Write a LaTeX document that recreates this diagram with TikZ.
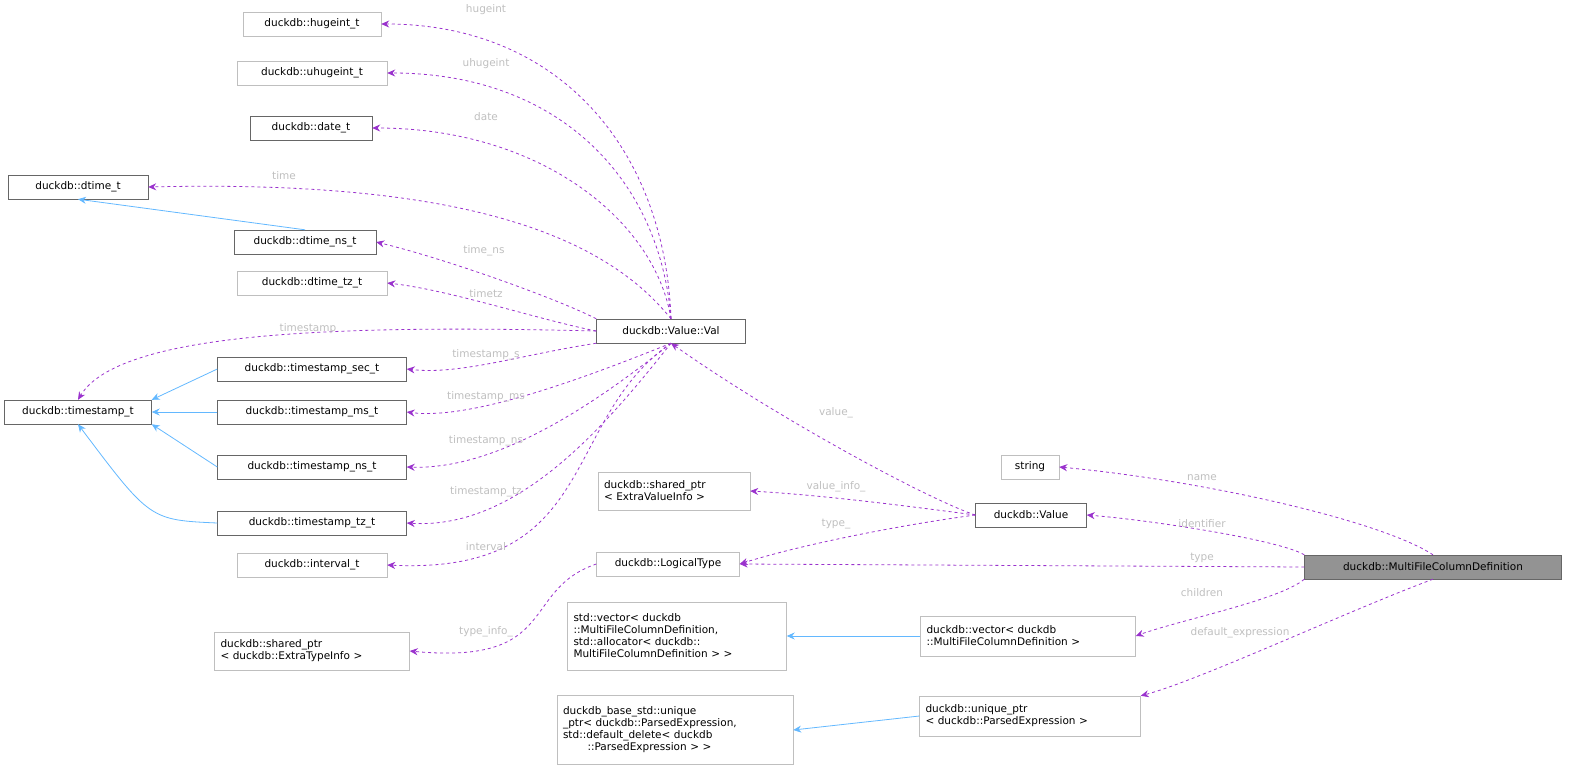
\documentclass[tikz,border=0pt]{standalone}
\usepackage{fontspec}
\setmainfont{DejaVu Sans}
\usetikzlibrary{arrows.meta}
\definecolor{pur}{HTML}{9A32CD}
\definecolor{blu}{HTML}{63B8FF}
\definecolor{lab}{HTML}{BFBFBF}
\definecolor{gb}{HTML}{BFBFBF}
\definecolor{db}{HTML}{666666}
\begin{document}
\begin{tikzpicture}[x=1pt,y=-1pt,
 n/.style={draw=db,rectangle,minimum height=24,inner sep=3pt,font=\fontsize{10.5}{12}\selectfont,fill=white},
 g/.style={n,draw=gb},
 ml/.style={align=left,text width=#1,inner xsep=6pt},
 dep/.style={draw=pur,dashed,line width=0.8pt,-{Stealth[length=8,width=7]}},
 inh/.style={draw=blu,line width=0.8pt,-{Stealth[length=8,width=7]}},
 lb/.style={text=lab,font=\fontsize{10.5}{12}\selectfont,inner sep=1pt}]
\useasboundingbox (0,0) rectangle (1575,772);
\node[g,minimum width=138] (hug) at (312,24) {duckdb::hugeint\_t};
\node[g,minimum width=150] (uhug) at (312,73) {duckdb::uhugeint\_t};
\node[n,minimum width=122] (date) at (311,128) {duckdb::date\_t};
\node[n,minimum width=140] (dt) at (78,187) {duckdb::dtime\_t};
\node[n,minimum width=142] (dtns) at (305,242) {duckdb::dtime\_ns\_t};
\node[g,minimum width=150] (dttz) at (312,283) {duckdb::dtime\_tz\_t};
\node[n,minimum width=147] (ts) at (78,412) {duckdb::timestamp\_t};
\node[n,minimum width=189] (tss) at (312,369) {duckdb::timestamp\_sec\_t};
\node[n,minimum width=189] (tsms) at (312,412) {duckdb::timestamp\_ms\_t};
\node[n,minimum width=189] (tsns) at (312,467) {duckdb::timestamp\_ns\_t};
\node[n,minimum width=189] (tstz) at (312,523) {duckdb::timestamp\_tz\_t};
\node[g,minimum width=150] (intv) at (312,565) {duckdb::interval\_t};
\node[g,ml=183,minimum height=38] (spti) at (312,651) {duckdb::shared\_ptr\\{}< duckdb::ExtraTypeInfo >};
\node[n,minimum width=149] (val) at (671,331) {duckdb::Value::Val};
\node[g,ml=140,minimum height=38] (spvi) at (674,491) {duckdb::shared\_ptr\\{}< ExtraValueInfo >};
\node[g,minimum width=143] (lt) at (668,564) {duckdb::LogicalType};
\node[g,ml=207,minimum height=68] (sv) at (677,636) {std::vector< duckdb\\::MultiFileColumnDefinition,\\ std::allocator< duckdb::\\MultiFileColumnDefinition > >};
\node[g,ml=224,minimum height=69] (bs) at (675,730) {duckdb\_base\_std::unique\\\_ptr< duckdb::ParsedExpression,\\ std::default\_delete< duckdb\\ \ \ \ \ \ \ \ ::ParsedExpression > >};
\node[g,minimum width=58] (str) at (1030,467) {string};
\node[n,minimum width=111] (v) at (1031,515) {duckdb::Value};
\node[n,fill=gray!85,draw=db,minimum width=257] (m) at (1433,567) {duckdb::MultiFileColumnDefinition};
\node[g,ml=203,minimum height=40] (vec) at (1028,636) {duckdb::vector< duckdb\\::MultiFileColumnDefinition >};
\node[g,ml=209,minimum height=40] (up) at (1030,716) {duckdb::unique\_ptr\\{}< duckdb::ParsedExpression >};
% inheritance
\draw[inh] (dtns.north) -- (dt.south);
\draw[inh] (tss.west) -- (ts.north east);
\draw[inh] (tsms.west) -- (ts.east);
\draw[inh] (tsns.west) -- (ts.south east);
\draw[inh] (tstz.west) .. controls (150,520) .. (ts.south);
\draw[inh] (vec.west) -- (sv.east);
\draw[inh] (up.west) -- (bs.east);
% Val deps
\draw[dep] (val.north) .. controls (665,150) and (560,24) .. (hug.east);
\draw[dep] (val.north) .. controls (660,180) and (560,73) .. (uhug.east);
\draw[dep] (val.north) .. controls (655,220) and (540,128) .. (date.east);
\draw[dep] (val.north) .. controls (600,230) and (450,180) .. (dt.east);
\draw[dep] (val.north west) .. controls (560,300) and (450,260) .. (dtns.east);
\draw[dep] (val.west) .. controls (540,320) and (450,290) .. (dttz.east);
\draw[dep] (val.west) .. controls (350,325) and (120,330) .. (ts.north);
\draw[dep] (val.south west) .. controls (520,355) and (460,375) .. (tss.east);
\draw[dep] (val.south) .. controls (580,380) and (470,420) .. (tsms.east);
\draw[dep] (val.south) .. controls (600,400) and (500,470) .. (tsns.east);
\draw[dep] (val.south) .. controls (610,420) and (520,530) .. (tstz.east);
\draw[dep] (val.south) .. controls (560,420) and (600,575) .. (intv.east);
\draw[dep] (lt.west) .. controls (520,590) and (560,665) .. (spti.east);
% Value deps
\draw[dep] (v.west) .. controls (930,500) and (780,420) .. (val.south);
\draw[dep] (v.west) .. controls (900,505) and (820,495) .. (spvi.east);
\draw[dep] (v.west) .. controls (900,525) and (800,545) .. (lt.east);
% MFCD deps
\draw[dep] (m.north) .. controls (1380,520) and (1200,480) .. (str.east);
\draw[dep] (m.north west) .. controls (1280,540) and (1150,520) .. (v.east);
\draw[dep] (m.west) -- (lt.east);
\draw[dep] (m.south west) .. controls (1280,600) and (1180,620) .. (vec.east);
\draw[dep] (m.south) .. controls (1350,610) and (1200,680) .. (up.north east);
% labels
\node[lb] at (486,10) {hugeint};
\node[lb] at (486,64) {uhugeint};
\node[lb] at (486,117) {date};
\node[lb] at (284,176) {time};
\node[lb] at (484,251) {time\_ns};
\node[lb] at (486,294) {timetz};
\node[lb] at (308,329) {timestamp};
\node[lb] at (486,355) {timestamp\_s};
\node[lb] at (486,397) {timestamp\_ms};
\node[lb] at (486,441) {timestamp\_ns};
\node[lb] at (486,492) {timestamp\_tz};
\node[lb] at (486,547) {interval};
\node[lb] at (486,632) {type\_info\_};
\node[lb] at (836,413) {value\_};
\node[lb] at (836,487) {value\_info\_};
\node[lb] at (836,524) {type\_};
\node[lb] at (1202,478) {name};
\node[lb] at (1202,524) {identifier};
\node[lb] at (1202,558) {type};
\node[lb] at (1202,593) {children};
\node[lb] at (1240,633) {default\_expression};
\end{tikzpicture}
\end{document}
